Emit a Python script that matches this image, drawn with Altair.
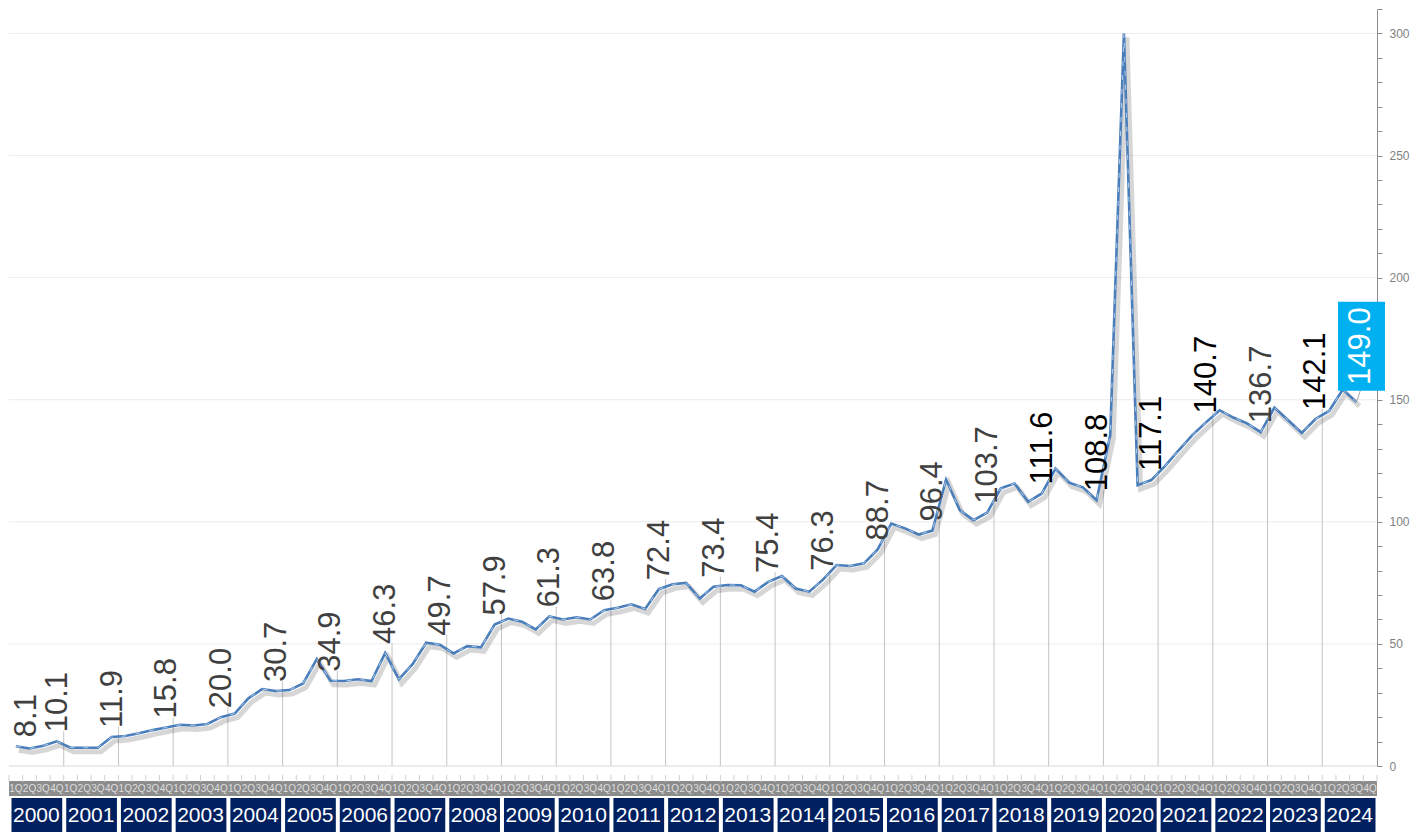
import altair as alt
import pandas as pd

# ---------------- data ----------------
YEARS = ["2000", "2001", "2002", "2003", "2004", "2005", "2006", "2007", "2008",
         "2009", "2010", "2011", "2012", "2013", "2014", "2015", "2016", "2017",
         "2018", "2019", "2020", "2021", "2022", "2023", "2024"]
QUARTERS = ["1Q", "2Q", "3Q", "4Q"]
VALUES = [
    8.1, 7.2, 8.3, 10.1,        # 2000
    7.5, 7.5, 7.5, 11.9,        # 2001
    12.3, 13.4, 14.7, 15.8,     # 2002
    16.9, 16.6, 17.2, 20.0,     # 2003
    21.5, 27.7, 31.5, 30.7,     # 2004
    31.1, 33.8, 43.8, 34.9,     # 2005
    34.8, 35.5, 34.8, 46.3,     # 2006
    35.5, 41.7, 50.5, 49.7,     # 2007
    46.1, 49.1, 48.6, 57.9,     # 2008
    60.4, 59.1, 55.9, 61.3,     # 2009
    60.0, 60.9, 60.0, 63.8,     # 2010
    64.8, 66.2, 64.3, 72.4,     # 2011
    74.4, 75.0, 68.6, 73.4,     # 2012
    74.1, 74.0, 71.4, 75.4,     # 2013
    77.8, 72.7, 71.4, 76.3,     # 2014
    82.3, 81.9, 83.0, 88.7,     # 2015
    99.3, 97.3, 94.8, 96.4,     # 2016
    117.3, 104.8, 100.7, 103.7, # 2017
    113.7, 115.7, 108.2, 111.6, # 2018
    121.8, 116.0, 114.1, 108.8, # 2019
    135.5, 300.0, 115.0, 117.1, # 2020
    122.8, 129.3, 135.5, 140.7, # 2021
    145.7, 142.7, 140.3, 136.7, # 2022
    146.8, 141.6, 136.4, 142.1, # 2023
    145.4, 154.2, 149.0,        # 2024
]
DARK_LABEL_YEARS = ["2018", "2019", "2020", "2021", "2023"]
Y_TICKS = [0, 10, 20, 30, 40, 50, 60, 70, 80, 90, 100, 110, 120, 130, 140, 150,
           160, 170, 180, 190, 200, 210, 220, 230, 240, 250, 260, 270, 280, 290,
           300, 310]
GRID_VALUES = [50, 100, 150, 200, 250, 300]

# ---------------- tables ----------------
line_df = pd.DataFrame({
    "idx": list(range(len(VALUES))),
    "value": VALUES,
    "year": [YEARS[i // 4] for i in range(len(VALUES))],
    "q": [QUARTERS[i % 4] for i in range(len(VALUES))],
})
line_df["text"] = line_df["value"].map(lambda v: f"{v:.1f}")
line_df["base"] = 0.0

q4_df = line_df[line_df["q"] == "4Q"].copy()
q4_df["tone"] = q4_df["year"].map(lambda y: "dark" if y in DARK_LABEL_YEARS else "grey")
q4_df["bound"] = q4_df["idx"] + 0.5

first_df = line_df.iloc[[0]].copy()
last_df = line_df.iloc[[-1]].copy()

n_cat = len(YEARS) * len(QUARTERS)
X_DOMAIN = [-0.5, n_cat - 0.5]
grid_df = pd.DataFrame({"g": GRID_VALUES})
zero_df = pd.DataFrame({"g": [0]})

qrow_df = pd.DataFrame({
    "pos": list(range(n_cat)),
    "q": [QUARTERS[i % 4] for i in range(n_cat)],
})
qtick_df = pd.DataFrame({"pos": [i - 0.5 for i in range(n_cat + 1)]})
band_df = pd.DataFrame({"start": [X_DOMAIN[0]], "end": [X_DOMAIN[1]]})

year_df = pd.DataFrame({
    "year": YEARS,
    "start": [4 * k - 0.5 for k in range(len(YEARS))],
    "end": [4 * k + 3.5 for k in range(len(YEARS))],
    "mid": [4 * k + 1.5 for k in range(len(YEARS))],
})

# ---------------- style ----------------
W = 1368
H_MAIN = 757
FONT = "Liberation Sans"
LINE_BLUE = "#4a7ebb"
XSCALE = alt.Scale(domain=X_DOMAIN, nice=False, zero=False)
YSCALE = alt.Scale(domain=[0, 310], nice=False, zero=True)
YAXIS = alt.Axis(orient="right", values=Y_TICKS, title=None, grid=False,
                 labelExpr="datum.value % 50 == 0 && datum.value <= 300 ? datum.label : ''",
                 tickSize=5, tickColor="#8c8c8c", domainColor="#8c8c8c",
                 labelColor="#7f7f7f", labelFontSize=12, labelFont=FONT,
                 labelPadding=7)


def xq(field):
    return alt.X(f"{field}:Q", scale=XSCALE, axis=None)


def yq(field):
    return alt.Y(f"{field}:Q", scale=YSCALE, axis=YAXIS, title=None)


grid = alt.Chart(grid_df).mark_rule(color="#ececec", strokeWidth=1).encode(y=yq("g"))
zero = alt.Chart(zero_df).mark_rule(color="#d9d9d9", strokeWidth=1).encode(y=yq("g"))

drops = alt.Chart(q4_df).mark_rule(color="#c4c4c4", strokeWidth=1, yOffset=-10).encode(
    x=xq("bound"), y=yq("value"), y2="base:Q")

shadow = alt.Chart(line_df).mark_line(color="#000000", opacity=0.16, strokeWidth=5,
                                      xOffset=3, yOffset=4).encode(
    x=xq("idx"), y=yq("value"))
line = alt.Chart(line_df).mark_line(color=LINE_BLUE, strokeWidth=2.6).encode(
    x=xq("idx"), y=yq("value"))
dashes = alt.Chart(line_df).mark_line(color="#c9dcf2", strokeWidth=1, opacity=0.8,
                                      strokeDash=[5, 9]).encode(
    x=xq("idx"), y=yq("value"))

labels = alt.Chart(q4_df).mark_text(angle=270, align="left", baseline="middle",
                                    dx=9, dy=1, font=FONT, fontSize=31).encode(
    x=xq("idx"), y=yq("value"), text="text:N",
    color=alt.Color("tone:N", scale=alt.Scale(domain=["dark", "grey"],
                                              range=["#000000", "#404040"]),
                    legend=None))
first_label = alt.Chart(first_df).mark_text(angle=270, align="left", baseline="middle",
                                            dx=9, dy=11, font=FONT, fontSize=31,
                                            color="#404040").encode(
    x=xq("idx"), y=yq("value"), text="text:N")

leader = alt.Chart(last_df).mark_rule(color="#a6a6a6", strokeWidth=1,
                                      x2Offset=4, y2Offset=-12).encode(
    x=xq("idx"), x2="idx:Q", y=yq("value"), y2="value:Q")
box = alt.Chart(last_df).mark_rect(color="#00b0f0", width=47, height=89,
                                   xOffset=5, yOffset=-56).encode(
    x=xq("idx"), y=yq("value"))
box_text = alt.Chart(last_df).mark_text(angle=270, align="center", baseline="middle",
                                        dx=56, dy=5, font=FONT, fontSize=31,
                                        color="white").encode(
    x=xq("idx"), y=yq("value"), text="text:N")

main = alt.layer(grid, zero, drops, shadow, line, dashes, labels, first_label,
                 leader, box, box_text).properties(width=W, height=H_MAIN)

# quarter row
qband = alt.Chart(band_df).mark_rect(color="#8c8c8c").encode(
    x=xq("start"), x2="end:Q", y=alt.value(6), y2=alt.value(21))
qticks = alt.Chart(qtick_df).mark_rule(color="#d0d0d0", strokeWidth=1).encode(
    x=xq("pos"), y=alt.value(0), y2=alt.value(7))
qtext = alt.Chart(qrow_df).mark_text(font=FONT, fontSize=10, color="#dedede",
                                     baseline="middle").encode(
    x=xq("pos"), y=alt.value(14), text="q:N")
qrow = alt.layer(qband, qticks, qtext).properties(width=W, height=21)

# year row
yrect = alt.Chart(year_df).mark_rect(color="#002060", xOffset=2.5, x2Offset=-1.5).encode(
    x=xq("start"), x2="end:Q")
ytext = alt.Chart(year_df).mark_text(font=FONT, fontSize=21, color="white",
                                     baseline="middle").encode(
    x=xq("mid"), y=alt.value(18), text="year:N")
yrow = alt.layer(yrect, ytext).properties(width=W, height=34)

chart = alt.vconcat(main, qrow, yrow, spacing=2).properties(
    padding=0, background="white"
).configure_view(strokeWidth=0)

chart.save("out.html", embed_options={"renderer": "svg", "actions": False})
